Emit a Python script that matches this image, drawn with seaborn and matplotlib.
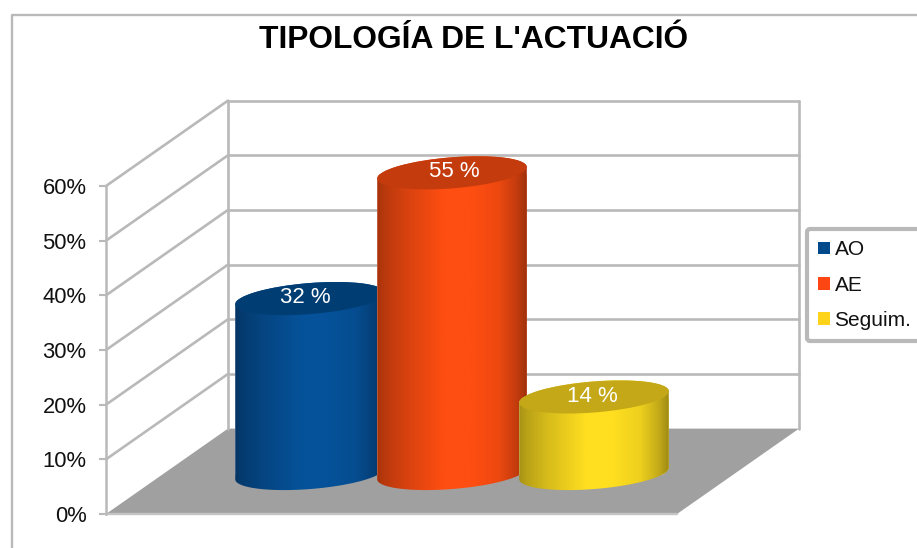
import numpy as np
import pandas as pd
import matplotlib
matplotlib.use("Agg")
import matplotlib.pyplot as plt
import seaborn as sns
from matplotlib.lines import Line2D
from matplotlib.patches import Ellipse, Patch, Polygon
from matplotlib.path import Path
from matplotlib.transforms import IdentityTransform

# ---- data ----
categories = ["AO", "AE", "Seguim."]
values = [32, 55, 14]
y_ticks = [0, 10, 20, 30, 40, 50, 60]
y_tick_labels = ["0%", "10%", "20%", "30%", "40%", "50%", "60%"]
title_text = "TIPOLOGÍA DE L'ACTUACIÓ"

# ---- style ----
body_colors = ["#06529a", "#ff4e12", "#ffdf20"]
cap_colors = ["#003d73", "#c43c0e", "#c4a818"]
legend_colors = ["#004a8c", "#ff4612", "#ffd31a"]
label_offsets = [(-5, 1), (2, 1.5), (-2, 0.5)]
GRAY = "#b9b9b9"
FLOOR = "#a0a0a0"

W, H = 917, 548
sns.set_theme(style="white")
plt.rcParams["font.family"] = ["Liberation Sans", "DejaVu Sans"]

fig = plt.figure(figsize=(W / 100, H / 100), dpi=100, facecolor="white")


def axes_px(left, right, top, bottom):
    return fig.add_axes([left / W, 1 - bottom / H, (right - left) / W, (bottom - top) / H])


# outer chart border (only top and left fall inside the picture)
fig.add_artist(Line2D([12 / W, 12 / W, 1], [0, 1 - 15 / H, 1 - 15 / H],
                      transform=fig.transFigure, color=GRAY, lw=1.7))

# ---- walls and floor: percent axis on the front-left edge ----
ax = axes_px(106, 677, 186, 514)
ax.set_xlim(0, 1)
ax.set_ylim(0, 60)
ax.patch.set_alpha(0)
for side in ["top", "right", "bottom"]:
    ax.spines[side].set_visible(False)
ax.spines["left"].set_color(GRAY)
ax.spines["left"].set_linewidth(1.8)
ax.set_xticks([])
ax.set_yticks(y_ticks)
ax.set_yticklabels(y_tick_labels, fontsize=15.8, color="#111111")
ax.tick_params(axis="y", length=5, width=1.5, color=GRAY, pad=9, left=True)

depth_x = 122 / 571
depth_y = 85.4 / (328 / 60)
floor = Polygon([(0, 0), (depth_x, depth_y), (1 + depth_x, depth_y), (1, 0)],
                closed=True, facecolor=FLOOR, edgecolor="none", clip_on=False, zorder=1)
ax.add_patch(floor)
line_kw = dict(color=GRAY, lw=1.9, clip_on=False, zorder=2, solid_capstyle="round")
for v in y_ticks:
    if v > 0:
        ax.plot([0, depth_x], [v, v + depth_y], **line_kw)
        ax.plot([depth_x, 1 + depth_x], [v + depth_y, v + depth_y], **line_kw)
ax.plot([depth_x, depth_x], [depth_y, 60 + depth_y], **line_kw)
ax.plot([1 + depth_x, 1 + depth_x], [depth_y, 60 + depth_y], **line_kw)
ax.plot([0, 1], [0, 0], color="#c4c4c4", lw=1.7, clip_on=False, zorder=2)

# ---- cylinders: a transparent axes whose zero is the floor level of the bars ----
bx = axes_px(168, 736, 473.5 - 328, 473.5)
bx.patch.set_alpha(0)
df = pd.DataFrame({"cat": categories, "val": values})
sns.barplot(data=df, x="cat", y="val", hue="cat", order=categories, hue_order=categories,
            palette=body_colors, saturation=1, dodge=False, width=150 / 142, legend=False, ax=bx)
bx.set_xlim(-1, 3)
bx.set_ylim(0, 60)
bx.axis("off")

TILT = 4.6
MINOR = 31
xs_prof = [0, 0.06, 0.2, 0.45, 0.62, 0.8, 0.92, 1]
shade_prof = [0.62, 0.72, 0.84, 1, 1, 0.93, 0.76, 0.58]
t = np.linspace(0, 1, 200)
shade = np.interp(t, xs_prof, shade_prof)


def ellipse_pts(cx, cy, a, b, start, stop):
    ang = np.radians(np.linspace(start, stop, 90))
    th = np.radians(TILT)
    ex, ey = a * np.cos(ang), b * np.sin(ang)
    return np.c_[cx + ex * np.cos(th) - ey * np.sin(th), cy + ex * np.sin(th) + ey * np.cos(th)]


bars = [c[0] for c in bx.containers]
for i, bar in enumerate(bars):
    x0, w, v = bar.get_x(), bar.get_width(), bar.get_height()
    xc = x0 + w / 2
    (pl, pb), (pr, _) = bx.transData.transform([(x0, 0), (x0 + w, 0)])
    pc_b = bx.transData.transform((xc, 0))
    pc_t = bx.transData.transform((xc, v))
    a = (pr - pl) / 2
    low = ellipse_pts(pc_b[0], pc_b[1], a, MINOR / 2, 180, 360)
    up = ellipse_pts(pc_t[0], pc_t[1], a, MINOR / 2, 0, 180)
    path = Path(np.vstack([low, up, low[:1]]), closed=True)
    z = 3 + 2 * i
    bar.set_zorder(z)
    bar.set_clip_path(path, IdentityTransform())
    bar.set_clip_box(fig.bbox)
    rgb = np.array(matplotlib.colors.to_rgb(body_colors[i]))
    grad = np.clip(shade[None, :, None] * rgb, 0, 1)
    im = bx.imshow(grad, extent=[x0 - 0.02, x0 + w + 0.02, -10, v + 10], aspect="auto",
                   zorder=z + 0.2, interpolation="bilinear")
    im.set_clip_path(path, IdentityTransform())
    im.set_clip_box(fig.bbox)
    cap = Ellipse(pc_t, 2 * a, MINOR, angle=TILT, facecolor=cap_colors[i], edgecolor="none",
                  transform=IdentityTransform(), zorder=z + 0.5)
    bx.add_artist(cap)
    cap.set_clip_on(False)
    bx.annotate(f"{v:.0f} %", (xc, v), xytext=label_offsets[i], textcoords="offset pixels",
                ha="center", va="center", color="white", fontsize=16, zorder=20)
bx.set_xlim(-1, 3)
bx.set_ylim(0, 60)

# ---- title ----
fig.text(474 / W, 1 - 40 / H, title_text, ha="center", va="center",
         fontsize=22.9, fontweight="bold", color="black")

# ---- legend ----
handles = [Patch(facecolor=c, edgecolor="none", label=l) for c, l in zip(legend_colors, categories)]
leg = fig.legend(handles=handles, loc="upper left", bbox_to_anchor=(807 / W, 1 - 229 / H),
                 borderaxespad=0, borderpad=0.55, labelspacing=0.78, handlelength=0.55,
                 handleheight=0.55, handletextpad=0.22, fontsize=15, frameon=True, fancybox=True)
frame = leg.get_frame()
frame.set_edgecolor(GRAY)
frame.set_linewidth(3)
frame.set_facecolor("white")
frame.set_alpha(1)
frame.set_boxstyle("round", pad=0, rounding_size=0.15)
for txt in leg.get_texts():
    txt.set_color("#111111")

fig.savefig("out.png", dpi=100, facecolor="white")
